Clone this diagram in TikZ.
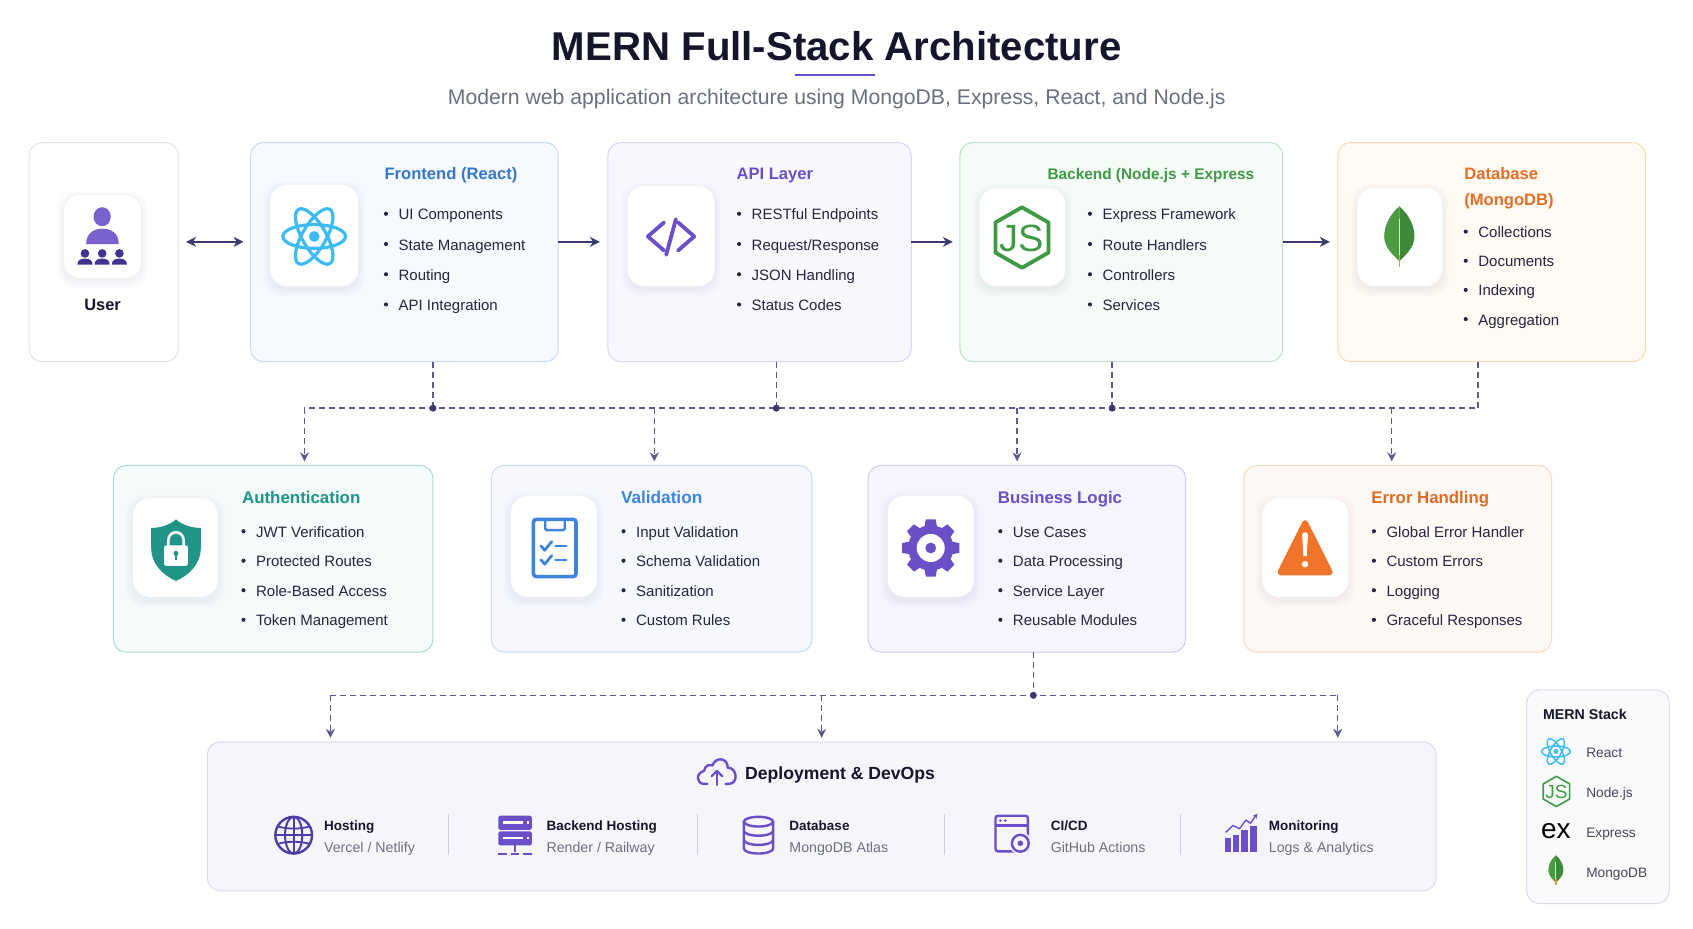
\documentclass[tikz,border=0pt]{standalone}
\usepackage{fontspec}
\setmainfont{Liberation Sans}
\usetikzlibrary{arrows.meta}
\definecolor{ink}{HTML}{15152B}
\definecolor{body}{HTML}{25253E}
\definecolor{grey}{HTML}{6B7080}
\definecolor{solidc}{HTML}{3A3A6E}
\definecolor{dashc}{HTML}{5A5A90}
\definecolor{purple1}{HTML}{6A4FC8}
\definecolor{purple2}{HTML}{4F3CA7}
\definecolor{reactc}{HTML}{3DBBF3}
\definecolor{greenc}{HTML}{3F9A45}
\definecolor{leafc}{HTML}{4C9A42}
\definecolor{leafd}{HTML}{3E8A3A}
\definecolor{tealc}{HTML}{1F9487}
\definecolor{bluec}{HTML}{3C84E0}
\definecolor{orangec}{HTML}{F0752A}
\definecolor{shadowc}{HTML}{4A4290}
\definecolor{bUser}{HTML}{E0E1E9}
\definecolor{fFront}{HTML}{F6F9FE}\definecolor{bFront}{HTML}{C5D9F0}
\definecolor{fApi}{HTML}{F9F7FE}\definecolor{bApi}{HTML}{DBD6F0}
\definecolor{fBack}{HTML}{F5FBF7}\definecolor{bBack}{HTML}{C0E0CC}
\definecolor{fDb}{HTML}{FFFAF3}\definecolor{bDb}{HTML}{FBDCAE}
\definecolor{fAuth}{HTML}{F4FBFA}\definecolor{bAuth}{HTML}{AADCD3}
\definecolor{fVal}{HTML}{F6F8FE}\definecolor{bVal}{HTML}{C9DAF3}
\definecolor{fBiz}{HTML}{F6F4FE}\definecolor{bBiz}{HTML}{D0C9F0}
\definecolor{fErr}{HTML}{FFF9F5}\definecolor{bErr}{HTML}{FAD9C3}
\definecolor{fDep}{HTML}{F7F5FC}\definecolor{bDep}{HTML}{DCD8EE}
\definecolor{fLeg}{HTML}{FAFAFC}\definecolor{bLeg}{HTML}{DCDCEA}
\definecolor{sepc}{HTML}{CDCBDC}
\def\ux{1.0797}
\tikzset{
  panelbase/.style={rectangle,draw,line width=1pt,rounded corners=13pt,inner sep=0pt,outer sep=0pt},
  tilebase/.style={rectangle,fill=white,rounded corners=17pt,inner sep=0pt,outer sep=0pt,draw=white!95!black,line width=.5pt},
  pUser/.style={fill=white,draw=bUser},
  pFront/.style={fill=fFront,draw=bFront},
  pApi/.style={fill=fApi,draw=bApi},
  pBack/.style={fill=fBack,draw=bBack},
  pDb/.style={fill=fDb,draw=bDb},
  pAuth/.style={fill=fAuth,draw=bAuth},
  pVal/.style={fill=fVal,draw=bVal},
  pBiz/.style={fill=fBiz,draw=bBiz},
  pErr/.style={fill=fErr,draw=bErr},
  pDep/.style={fill=fDep,draw=bDep},
  pLeg/.style={fill=fLeg,draw=bLeg},
  cardtitle/.style={anchor=west,inner sep=0pt,font=\fontsize{16.6}{20}\selectfont\bfseries,text height=18pt,text depth=4pt},
  item/.style={anchor=west,inner sep=0pt,text=body,font=\fontsize{15}{18}\selectfont,text height=15pt,text depth=3pt},
  subhead/.style={anchor=west,inner sep=0pt,text=ink,font=\fontsize{13.5}{16}\selectfont\bfseries,text height=14pt,text depth=3pt},
  subtext/.style={anchor=west,inner sep=0pt,text=grey,font=\fontsize{14.2}{16}\selectfont,text height=14pt,text depth=3pt},
  legtext/.style={anchor=west,inner sep=0pt,text=body!85!white,font=\fontsize{13.7}{16}\selectfont,text height=15pt,text depth=3pt},
  solidarrow/.style={draw=solidc,line width=1.8pt},
  dashline/.style={draw=dashc,line width=1.4pt,dash pattern=on 6pt off 4pt},
  dashtip/.style={-{Stealth[length=9pt,width=9pt]},shorten >=4pt},
  jdot/.style={circle,fill=solidc,inner sep=0pt,minimum size=7pt},
  sepline/.style={draw=sepc,line width=1pt},
}
\newcommand\panel[6]{%
  \pgfmathsetmacro\pw{(#4-#2)*\ux}\pgfmathsetmacro\ph{(#5-#3)*\ux}%
  \node[panelbase,#6,minimum width=\pw pt,minimum height=\ph pt] (#1) at ({(#2+#4)/2},{(#3+#5)/2}) {};}
\newcommand\tile[5]{%
  \foreach \e/\o in {6/.012,4.5/.014,3/.016,1.5/.02}{%
    \fill[shadowc,opacity=\o,rounded corners=18pt] (#2-\e,#3-\e+3) rectangle (#4+\e,#5+\e+3);}%
  \pgfmathsetmacro\pw{(#4-#2)*\ux}\pgfmathsetmacro\ph{(#5-#3)*\ux}%
  \node[tilebase,minimum width=\pw pt,minimum height=\ph pt] (#1) at ({(#2+#4)/2},{(#3+#5)/2}) {};}
\newcommand\cardlist[5]{%
  \foreach \itemtxt [count=\idx from 0] in {#5}{%
    \pgfmathsetmacro\yy{#3+\idx*#4}%
    \fill[body] (#2-11.5,\yy) circle (1.9);
    \node[item] (#1\idx) at (#2,\yy) {\itemtxt};}}
\newcommand\reacticon[4]{%
  \begin{scope}[shift={(#1,#2)},scale=#3]
    \foreach \a in {0,60,120}{\draw[reactc,line width=#4,rotate=\a] (0,0) ellipse [x radius=29,y radius=11];}
    \fill[reactc] (0,0) circle (5);
  \end{scope}}
\newcommand\jsicon[7]{% name cx cy s lw fs dy
  \begin{scope}[shift={(#2,#3)},scale=#4]
    \draw[greenc,line width=#5,line join=round] (0,-28) -- (24.5,-14) -- (24.5,14) -- (0,28) -- (-24.5,14) -- (-24.5,-14) -- cycle;
  \end{scope}
  \node[text=greenc,inner sep=0pt,font=\fontsize{#6}{#6}\selectfont] (#1) at (#2,#3+#7) {JS};}
\newcommand\leaficon[3]{%
  \begin{scope}[shift={(#1,#2)},scale=#3]
    \fill[leafc] (0,-28) .. controls (-9,-20) and (-14,-10) .. (-14,0) .. controls (-14,10) and (-6,17) .. (0,23) -- cycle;
    \fill[leafd] (0,-28) .. controls (9,-20) and (14,-10) .. (14,0) .. controls (14,10) and (6,17) .. (0,23) -- cycle;
    \draw[white!75!green,line width=.9pt] (0,-16) -- (0,18);
    \draw[brown!75!yellow,line width=1.6pt] (0,17) -- (0,28);
  \end{scope}}
\begin{document}
\begin{tikzpicture}[x=1.0797pt,y=-1.0797pt]
\useasboundingbox (0,0) rectangle (1568,860.4);
\fill[white] (0,0) rectangle (1568,860.4);
% title
\node[inner sep=0pt,text=ink,font=\fontsize{40.2}{46}\selectfont\bfseries] (title) at (775,43) {MERN Full-Stack Architecture};
\coordinate (ulA) at (736,69); \coordinate (ulB) at (810,69);
\draw[purple1,line width=2pt] (ulA) -- (ulB);
\node[inner sep=0pt,text=grey,font=\fontsize{21.2}{26}\selectfont] (subtitle) at (775,91.5) {Modern web application architecture using MongoDB, Express, React, and Node.js};
% top row panels
\panel{user}{27}{132}{165}{335}{pUser}
\panel{front}{232}{132}{517}{335}{pFront}
\panel{api}{563}{132}{844}{335}{pApi}
\panel{back}{889}{132}{1188}{335}{pBack}
\panel{db}{1239}{132}{1524}{335}{pDb}
% second row
\panel{auth}{105}{431}{401}{604}{pAuth}
\panel{val}{455}{431}{752}{604}{pVal}
\panel{biz}{804}{431}{1098}{604}{pBiz}
\panel{err}{1152}{431}{1437}{604}{pErr}
% deploy and legend
\panel{dep}{192}{687}{1330}{825}{pDep}
\panel{leg}{1414}{639}{1546}{837}{pLeg}
% tiles
\tile{tUser}{59}{180}{131}{258}
\tile{tFront}{250}{171}{332}{265}
\tile{tApi}{581}{172}{662}{265}
\tile{tBack}{907}{174}{987}{265}
\tile{tDb}{1257}{174}{1336}{265}
\tile{tAuth}{123}{461}{202}{553}
\tile{tVal}{473}{459}{553}{553}
\tile{tBiz}{822}{459}{902}{553}
\tile{tErr}{1169}{461}{1249}{553}
% User
\node[inner sep=0pt,text=ink,font=\fontsize{16.4}{20}\selectfont\bfseries] (userlabel) at (95,282) {User};
\fill[purple1!90!white] (94.6,200.7) ellipse [x radius=8,y radius=8.8];
\fill[purple1!90!white] (79.8,226) .. controls (79.8,216) and (87,211.8) .. (95,211.8) .. controls (103,211.8) and (110,216) .. (110,226) -- cycle;
\foreach \px in {78.7,94.6,110.6}{
  \fill[purple2!85!black] (\px,234.7) circle (4);
  \fill[purple2!85!black] (\px-7,245) .. controls (\px-7,241) and (\px-4,239.5) .. (\px,239.5) .. controls (\px+4,239.5) and (\px+7,241) .. (\px+7,245) -- cycle;
}
% Frontend
\node[cardtitle,text=bluec!90!black] (frontT) at (356,160) {Frontend (React)};
\cardlist{frontI}{369}{198}{28}{UI Components,State Management,Routing,API Integration}
\reacticon{291}{219}{1}{3.2pt}
% API
\node[cardtitle,text=purple1] (apiT) at (682,160) {API Layer};
\cardlist{apiI}{696}{198}{28}{RESTful Endpoints,Request/Response,JSON Handling,Status Codes}
\draw[purple1,line width=3.8pt,line cap=round,line join=round] (615,206) -- (600,219) -- (615,232);
\draw[purple1,line width=3.8pt,line cap=round] (626,203) -- (617,236);
\draw[purple1,line width=3.8pt,line cap=round,line join=round] (628,206) -- (643,219) -- (628,232);
% Backend
\node[cardtitle,text=greenc,font=\fontsize{15.4}{20}\selectfont\bfseries] (backT) at (970,160) {Backend (Node.js + Express};
\cardlist{backI}{1021}{198}{28}{Express Framework,Route Handlers,Controllers,Services}
\jsicon{jsBig}{946.5}{220}{1}{3.8pt}{38}{1}
% Database
\node[cardtitle,text=orangec!95!black] (dbT) at (1356,160) {Database};
\node[cardtitle,text=orangec!95!black] (dbT2) at (1356,184) {(MongoDB)};
\cardlist{dbI}{1369}{214.5}{27}{Collections,Documents,Indexing,Aggregation}
\leaficon{1296}{219}{1}
% Authentication
\node[cardtitle,text=tealc,font=\fontsize{16.9}{20}\selectfont\bfseries] (authT) at (224,460) {Authentication};
\cardlist{authI}{237}{492}{27.33}{JWT Verification,Protected Routes,Role-Based Access,Token Management}
\fill[tealc] (163,481) .. controls (168,486) and (178,489) .. (186,489) -- (186,508) .. controls (186,522) and (175,533) .. (163,538) .. controls (151,533) and (140,522) .. (140,508) -- (140,489) .. controls (148,489) and (158,486) .. (163,481) -- cycle;
\draw[white,line width=2.6pt] (156,506) -- (156,500) arc [start angle=180,end angle=360,radius=7] -- (170,506);
\fill[white,rounded corners=2pt] (152,505) rectangle (174,524);
\fill[tealc] (163,512.5) circle (2.3);
\fill[tealc] (162,513) rectangle (164,519);
% Validation
\node[cardtitle,text=bluec,font=\fontsize{17.2}{20}\selectfont\bfseries] (valT) at (575,460) {Validation};
\cardlist{valI}{589}{492}{27.33}{Input Validation,Schema Validation,Sanitization,Custom Rules}
\draw[bluec,line width=3.6pt,rounded corners=3pt] (494,481) rectangle (533.5,534);
\draw[bluec,line width=2.4pt,rounded corners=1.5pt] (505,480) -- (505,491) -- (523,491) -- (523,480);
\foreach \cy in {505.6,518.5}{
  \draw[bluec,line width=2.8pt,line cap=round,line join=round] (501,\cy) -- (504.5,\cy+4) -- (511,\cy-4);
  \draw[bluec,line width=2.6pt,line cap=round] (514.5,\cy) -- (524.5,\cy);
}
% Business logic
\node[cardtitle,text=purple1,font=\fontsize{16.8}{20}\selectfont\bfseries] (bizT) at (924,460) {Business Logic};
\cardlist{bizI}{938}{492}{27.33}{Use Cases,Data Processing,Service Layer,Reusable Modules}
\begin{scope}[shift={(862,507.5)}]
  \foreach \a in {0,45,...,315}{
    \fill[purple1,rotate=\a] (-6,-19) -- (-4.5,-26.5) -- (4.5,-26.5) -- (6,-19) -- cycle;}
  \fill[purple1] (0,0) circle (21);
  \fill[white] (0,0) circle (13);
  \fill[purple1] (0,0) circle (5);
\end{scope}
% Error handling
\node[cardtitle,text=orangec!92!black,font=\fontsize{16.8}{20}\selectfont\bfseries] (errT) at (1270,460) {Error Handling};
\cardlist{errI}{1284}{492}{27.33}{Global Error Handler,Custom Errors,Logging,Graceful Responses}
\filldraw[fill=orangec,draw=orangec,line width=6pt,line join=round] (1208.7,484.5) -- (1231.5,530) -- (1186,530) -- cycle;
\fill[white] (1206,495) .. controls (1206,492.5) and (1211.4,492.5) .. (1211.4,495) -- (1210.2,515) -- (1207.2,515) -- cycle;
\fill[white] (1208.7,522.5) circle (3);
% Solid arrows
\coordinate (arrowrow) at (0,224);
\draw[solidarrow,{Stealth[length=10pt,width=10pt]}-{Stealth[length=10pt,width=10pt]},shorten <=8pt,shorten >=7pt] (user.east |- arrowrow) -- (front.west |- arrowrow);
\draw[solidarrow,-{Stealth[length=10pt,width=10pt]},shorten >=8pt] (front.east |- arrowrow) -- (api.west |- arrowrow);
\draw[solidarrow,-{Stealth[length=10pt,width=10pt]},shorten >=7pt] (api.east |- arrowrow) -- (back.west |- arrowrow);
\draw[solidarrow,-{Stealth[length=10pt,width=10pt]},shorten >=8pt] (back.east |- arrowrow) -- (db.west |- arrowrow);
% Dashed bus 1
\coordinate (jF) at (401,378); \coordinate (jA) at (719,378); \coordinate (jB) at (1030,378); \coordinate (jD) at (1369,378);
\coordinate (bL) at (282,378); \coordinate (bV) at (606,378); \coordinate (bZ) at (942,378); \coordinate (bE) at (1289,378);
\draw[dashline] (front.south -| jF) -- (jF);
\draw[dashline] (api.south -| jA) -- (jA);
\draw[dashline] (back.south -| jB) -- (jB);
\draw[dashline] (db.south -| jD) -- (jD) -- (bL);
\draw[dashline,dashtip] (bL) -- (auth.north -| bL);
\draw[dashline,dashtip] (bV) -- (val.north -| bV);
\draw[dashline,dashtip] (bZ) -- (biz.north -| bZ);
\draw[dashline,dashtip] (bE) -- (err.north -| bE);
\node[jdot] (dF) at (jF) {}; \node[jdot] (dA) at (jA) {}; \node[jdot] (dB) at (jB) {};
% Dashed bus 2
\coordinate (jL) at (957,644); \coordinate (cL) at (306,644); \coordinate (cM) at (761,644); \coordinate (cR) at (1239,644);
\draw[dashline] (biz.south -| jL) -- (jL);
\draw[dashline] (cL) -- (cR);
\draw[dashline,dashtip] (cL) -- (dep.north -| cL);
\draw[dashline,dashtip] (cM) -- (dep.north -| cM);
\draw[dashline,dashtip] (cR) -- (dep.north -| cR);
\node[jdot] (dL) at (jL) {};
% Deployment
\draw[purple1,line width=2.4pt,line cap=round,line join=round] (655,726) -- (652,726) .. controls (645,726) and (644,716) .. (652,714) .. controls (653,708) and (658,708) .. (660,709) .. controls (662,701) and (674,701) .. (674,711) .. controls (683,711) and (684,726) .. (675,726) -- (672,726);
\draw[purple1,line width=2.2pt,line cap=round,line join=round] (664,727) -- (664,715);
\draw[purple1,line width=2.2pt,line cap=round,line join=round] (659,719) -- (664,714) -- (669,719);
\node[anchor=west,inner sep=0pt,text=ink,font=\fontsize{17.6}{22}\selectfont\bfseries,text height=19pt,text depth=4pt] (depT) at (690,715) {Deployment \& DevOps};
\coordinate (sa1) at (415,754); \coordinate (sb1) at (415,792);
\coordinate (sa2) at (646,754); \coordinate (sb2) at (646,792);
\coordinate (sa3) at (875,754); \coordinate (sb3) at (875,792);
\coordinate (sa4) at (1093,754); \coordinate (sb4) at (1093,792);
\draw[sepline] (sa1) -- (sb1); \draw[sepline] (sa2) -- (sb2); \draw[sepline] (sa3) -- (sb3); \draw[sepline] (sa4) -- (sb4);
% hosting
\begin{scope}[shift={(272,773.5)}]
  \draw[purple2,line width=2.4pt] (0,0) circle (17);
  \draw[purple2,line width=2pt] (0,0) ellipse [x radius=8,y radius=17];
  \draw[purple2,line width=2pt] (0,-17) -- (0,17) (-17,0) -- (17,0);
  \draw[purple2,line width=1.8pt] (-14.5,-8) .. controls (-6,-5.5) and (6,-5.5) .. (14.5,-8);
  \draw[purple2,line width=1.8pt] (-14.5,8) .. controls (-6,5.5) and (6,5.5) .. (14.5,8);
\end{scope}
\node[subhead] (h1) at (300,764) {Hosting};
\node[subtext] (s1) at (300,784) {Vercel / Netlify};
% backend hosting
\foreach \by in {755.5,770}{
  \fill[purple1,rounded corners=2pt] (461.5,\by) rectangle (492.5,\by+13);
  \fill[white] (466,\by+5) rectangle (484,\by+7.5);
  \fill[white] (488,\by+5) rectangle (490,\by+7.5);
}
\draw[purple1,line width=2.2pt] (477,783) -- (477,789);
\draw[purple1,line width=2pt] (461.5,790.5) -- (470,790.5) (473,790.5) -- (481,790.5) (484,790.5) -- (492.5,790.5);
\node[subhead] (h2) at (506,764) {Backend Hosting};
\node[subtext] (s2) at (506,784) {Render / Railway};
% database
\begin{scope}[shift={(702.5,773.5)}]
  \draw[purple1,line width=2.4pt] (0,-12.5) ellipse [x radius=13.5,y radius=4.5];
  \draw[purple1,line width=2.4pt] (-13.5,-12.5) -- (-13.5,12.5) arc [start angle=180,end angle=0,x radius=13.5,y radius=4.5] -- (13.5,-12.5);
  \draw[purple1,line width=2.4pt] (-13.5,-4) arc [start angle=180,end angle=0,x radius=13.5,y radius=4.5];
  \draw[purple1,line width=2.4pt] (-13.5,4.5) arc [start angle=180,end angle=0,x radius=13.5,y radius=4.5];
\end{scope}
\node[subhead] (h3) at (731,764) {Database};
\node[subtext] (s3) at (731,784) {MongoDB Atlas};
% CI/CD
\draw[purple1,line width=2.4pt,rounded corners=2.5pt] (922,755.5) rectangle (952,788.5);
\draw[purple1,line width=2.2pt] (922,764.5) -- (952,764.5);
\fill[purple1] (926.5,760) circle (1.3) (931,760) circle (1.3);
\fill[fDep] (945,781) circle (10.5);
\draw[purple1,line width=2.4pt] (945,781) circle (7.8);
\fill[purple1] (945,781) circle (2.6);
\node[subhead] (h4) at (973,764) {CI/CD};
\node[subtext] (s4) at (973,784) {GitHub Actions};
% Monitoring
\fill[purple1] (1134.3,776.5) rectangle (1140,789);
\fill[purple1] (1141.8,773) rectangle (1147.4,789);
\fill[purple1] (1149.8,768.7) rectangle (1155.8,789);
\fill[purple1] (1157.8,765) rectangle (1163.9,789);
\draw[purple1,line width=1.4pt,line join=round,-{Stealth[length=5pt,width=5pt]}] (1135,771) -- (1142,764.5) -- (1148,767.5) -- (1154,759.5) -- (1158,762.5) -- (1164.5,753.5);
\node[subhead] (h5) at (1175,764) {Monitoring};
\node[subtext] (s5) at (1175,784) {Logs \& Analytics};
% Legend
\node[subhead,font=\fontsize{14.2}{16}\selectfont\bfseries] (legT) at (1429,661) {MERN Stack};
\reacticon{1441}{696}{.46}{1.5pt}
\node[legtext] (l1) at (1469,696) {React};
\jsicon{jsSmall}{1441.5}{733}{.5}{1.6pt}{19}{.5}
\node[legtext] (l2) at (1469,733) {Node.js};
\node[inner sep=0pt,text=black,font=\fontsize{28}{28}\selectfont] (exm) at (1441,770) {ex};
\node[legtext] (l3) at (1469,770) {Express};
\leaficon{1441}{806}{.5}
\node[legtext] (l4) at (1469,807) {MongoDB};
\end{tikzpicture}
\end{document}
